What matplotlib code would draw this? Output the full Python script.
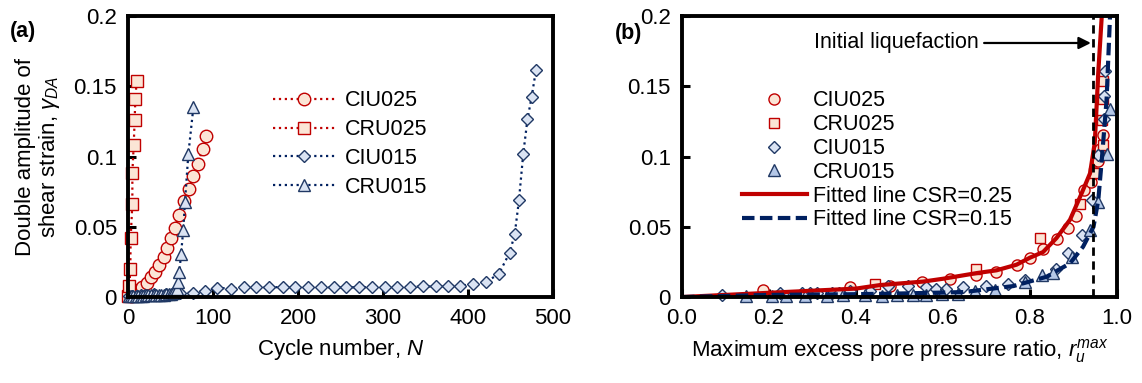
import matplotlib
matplotlib.use("Agg")
import matplotlib.pyplot as plt

plt.rcParams['font.family'] = ['Liberation Sans', 'DejaVu Sans']
plt.rcParams['mathtext.fontset'] = 'custom'
plt.rcParams['mathtext.rm'] = 'Liberation Sans'
plt.rcParams['mathtext.it'] = 'Liberation Sans:italic'
plt.rcParams['font.size'] = 15.5

# ---- panel (a): strain vs cycle number ----
n_ciu025 = [3, 6, 12, 17, 22, 27, 32, 37, 42, 46, 51, 55, 60, 66, 72, 77, 82, 88, 92]
g_ciu025 = [0.001, 0.003, 0.005, 0.0073, 0.0102, 0.014, 0.018, 0.0228, 0.0287, 0.0347,
            0.0418, 0.0493, 0.0584, 0.0681, 0.0771, 0.0864, 0.095, 0.1053, 0.1146]

n_cru025 = [0.5, 1.6, 2.7, 3.1, 5.1, 5.1, 6.7, 7.8, 8.6, 10.2]
g_cru025 = [0.001, 0.008, 0.0197, 0.042, 0.0662, 0.0885, 0.108, 0.126, 0.1407, 0.154]

n_ciu015 = [1, 5, 10, 15, 20, 30, 45, 61, 76, 91, 105, 121, 136, 151, 166, 182, 197,
            212, 227, 242, 257, 272, 287, 302, 317, 332, 347, 362, 376, 391, 406, 421,
            436, 449, 455, 460, 465, 470, 475, 480]
g_ciu015 = [0.0005, 0.0008, 0.001, 0.0012, 0.0015, 0.002, 0.0025, 0.003, 0.003, 0.0043,
            0.0065, 0.006, 0.0068, 0.0068, 0.007, 0.007, 0.007, 0.007, 0.007, 0.0068,
            0.0068, 0.007, 0.007, 0.0072, 0.0072, 0.0072, 0.0075, 0.0075, 0.0078, 0.008,
            0.0093, 0.0109, 0.0161, 0.0315, 0.0446, 0.069, 0.1016, 0.1265, 0.1426, 0.1616]

n_cru015 = [1, 3, 6, 9, 12, 15, 18, 21, 24, 27, 30, 33, 36, 39, 42, 45, 48, 51, 53.3,
            57.3, 59.2, 60.4, 62.4, 65, 67, 71, 76.9]
g_cru015 = [0.0005, 0.0006, 0.0007, 0.0008, 0.0009, 0.001, 0.001, 0.0011, 0.0012, 0.0012,
            0.0013, 0.0014, 0.0015, 0.0016, 0.0017, 0.0018, 0.002, 0.0022, 0.0026,
            0.0055, 0.0109, 0.018, 0.0306, 0.0477, 0.0676, 0.1018, 0.135]

# ---- panel (b): strain vs max pore pressure ratio ----
r_ciu025 = [0.187, 0.386, 0.478, 0.551, 0.616, 0.677, 0.723, 0.769, 0.80, 0.83, 0.861,
            0.888, 0.905, 0.925, 0.94, 0.949, 0.957, 0.962, 0.967]
s_ciu025 = [0.005, 0.007, 0.0075, 0.011, 0.0126, 0.016, 0.018, 0.023, 0.028, 0.034, 0.041,
            0.049, 0.058, 0.076, 0.082, 0.088, 0.097, 0.105, 0.115]

r_cru025 = [0.444, 0.677, 0.823, 0.915, 0.946, 0.967, 0.965, 0.967, 0.967]
s_cru025 = [0.0093, 0.0197, 0.042, 0.066, 0.0885, 0.108, 0.126, 0.141, 0.154]

r_ciu015 = [0.091, 0.225, 0.275, 0.294, 0.31, 0.344, 0.36, 0.386, 0.432, 0.474, 0.52,
            0.562, 0.585, 0.608, 0.647, 0.70, 0.75, 0.789, 0.86, 0.888, 0.919, 0.942,
            0.957, 0.969, 0.970, 0.972]
s_ciu015 = [0.0014, 0.0026, 0.0026, 0.003, 0.0026, 0.003, 0.003, 0.004, 0.0045, 0.0075,
            0.0078, 0.007, 0.0055, 0.0055, 0.0069, 0.0078, 0.0093, 0.012, 0.02, 0.031,
            0.044, 0.069, 0.101, 0.127, 0.143, 0.161]

r_cru015 = [0.147, 0.206, 0.24, 0.283, 0.333, 0.371, 0.421, 0.459, 0.494, 0.532, 0.562,
            0.597, 0.635, 0.674, 0.72, 0.789, 0.827, 0.853, 0.896, 0.938, 0.957, 0.976, 0.984]
s_cru015 = [0.001, 0.001, 0.001, 0.001, 0.001, 0.0015, 0.0015, 0.001, 0.0015, 0.0015,
            0.0015, 0.002, 0.002, 0.004, 0.005, 0.011, 0.0157, 0.017, 0.0287, 0.0477,
            0.0678, 0.102, 0.134]

r_fit25 = [0.0, 0.1, 0.2, 0.3, 0.4, 0.455, 0.555, 0.6, 0.677, 0.723, 0.769, 0.8, 0.83,
           0.861, 0.892, 0.919, 0.938, 0.949, 0.957, 0.965]
s_fit25 = [0.0, 0.0015, 0.003, 0.0045, 0.006, 0.0085, 0.011, 0.013, 0.017, 0.019, 0.023,
           0.028, 0.032, 0.042, 0.055, 0.074, 0.088, 0.11, 0.16, 0.2]

r_fit15 = [0.0, 0.2, 0.4, 0.5, 0.647, 0.762, 0.838, 0.892, 0.922, 0.946, 0.957, 0.965,
           0.976, 0.984]
s_fit15 = [0.0, 0.0015, 0.002, 0.0025, 0.0035, 0.0078, 0.0144, 0.024, 0.0358, 0.05,
           0.069, 0.0975, 0.14, 0.2]

r_liq = 0.945
labels = ["CIU025", "CRU025", "CIU015", "CRU015"]

red = '#C00000'
navy = '#002060'
peach = '#FBE5D6'
lblue = '#DAE3F3'
mblue = '#B4C7E7'
dblue = '#203864'

fig = plt.figure(figsize=(11.42, 3.83), dpi=100)
ax1 = fig.add_axes([0.1121, 0.2245, 0.3721, 0.7337])
ax2 = fig.add_axes([0.5972, 0.2245, 0.3809, 0.7337])

ax1.plot(n_ciu025, g_ciu025, ':', color=red, lw=1.6, marker='o', ms=9,
         mfc=peach, mec=red, mew=1.0, label=labels[0], clip_on=False)
ax1.plot(n_cru025, g_cru025, ':', color=red, lw=1.6, marker='s', ms=8,
         mfc=peach, mec=red, mew=1.0, label=labels[1], clip_on=False)
ax1.plot(n_ciu015, g_ciu015, ':', color=navy, lw=1.6, marker='D', ms=6.5,
         mfc=lblue, mec=dblue, mew=1.0, label=labels[2], clip_on=False)
ax1.plot(n_cru015, g_cru015, ':', color=navy, lw=1.6, marker='^', ms=9,
         mfc=lblue, mec=dblue, mew=1.0, label=labels[3], clip_on=False)

ax1.set_xlim(0, 500)
ax1.set_ylim(0, 0.2)
ax1.set_xticks([0, 100, 200, 300, 400, 500])
ax1.set_yticks([0, 0.05, 0.1, 0.15, 0.2])
ax1.set_yticklabels(['0', '0.05', '0.1', '0.15', '0.2'])
ax1.set_xlabel('Cycle number, $\\mathit{N}$', labelpad=6, fontsize=16)
ax1.set_ylabel('Double amplitude of\nshear strain, $\\gamma_{DA}$', linespacing=1.05,
               fontsize=16)
ax1.yaxis.set_label_coords(-0.155, 0.5)
ax1.legend(loc='upper left', bbox_to_anchor=(0.341, 0.735), frameon=False,
           borderpad=0, handlelength=2.9, handletextpad=0.45, labelspacing=0.36,
           numpoints=1, borderaxespad=0)

ax2.plot(r_ciu025, s_ciu025, 'o', ms=8, mfc=peach, mec=red, mew=1.0, label=labels[0],
         clip_on=False)
ax2.plot(r_cru025, s_cru025, 's', ms=7.5, mfc=peach, mec=red, mew=1.0, label=labels[1],
         clip_on=False)
ax2.plot(r_ciu015, s_ciu015, 'D', ms=6.5, mfc=lblue, mec=dblue, mew=1.0, label=labels[2],
         clip_on=False)
ax2.plot(r_cru015, s_cru015, '^', ms=9, mfc=mblue, mec=dblue, mew=1.0, label=labels[3],
         clip_on=False)
ax2.plot(r_fit25, s_fit25, '-', color=red, lw=3, label='Fitted line CSR=0.25')
ax2.plot(r_fit15, s_fit15, '--', color=navy, lw=3, dashes=(3, 1.3),
         label='Fitted line CSR=0.15')
ax2.axvline(r_liq, color='k', lw=2, ls='--', dashes=(3, 2))
ax2.annotate('Initial liquefaction', xy=(r_liq - 0.005, 0.1808), xytext=(0.303, 0.1808),
             va='center', ha='left',
             arrowprops=dict(arrowstyle='-|>', color='k', lw=1.6, mutation_scale=18,
                             shrinkA=2, shrinkB=0))

ax2.set_xlim(0, 1.0)
ax2.set_ylim(0, 0.2)
ax2.set_xticks([0, 0.2, 0.4, 0.6, 0.8, 1.0])
ax2.set_xticklabels(['0.0', '0.2', '0.4', '0.6', '0.8', '1.0'])
ax2.set_yticks([0, 0.05, 0.1, 0.15, 0.2])
ax2.set_yticklabels(['0', '0.05', '0.1', '0.15', '0.2'])
ax2.set_xlabel('Maximum excess pore pressure ratio, $r_u^{max}$', labelpad=6, fontsize=16)
ax2.legend(loc='upper left', bbox_to_anchor=(0.138, 0.735), frameon=False,
           borderpad=0, handlelength=3.0, handletextpad=0.3, labelspacing=0.13,
           numpoints=1, borderaxespad=0)

for ax in (ax1, ax2):
    for s in ax.spines.values():
        s.set_linewidth(2.8)
    ax.tick_params(direction='in', length=6, width=2.2, pad=8, labelsize=16)

fig.text(0.009, 0.919, '(a)', fontweight='bold', fontsize=15.5, va='center')
fig.text(0.538, 0.912, '(b)', fontweight='bold', fontsize=15.5, va='center')

fig.savefig('out.png', dpi=100)
